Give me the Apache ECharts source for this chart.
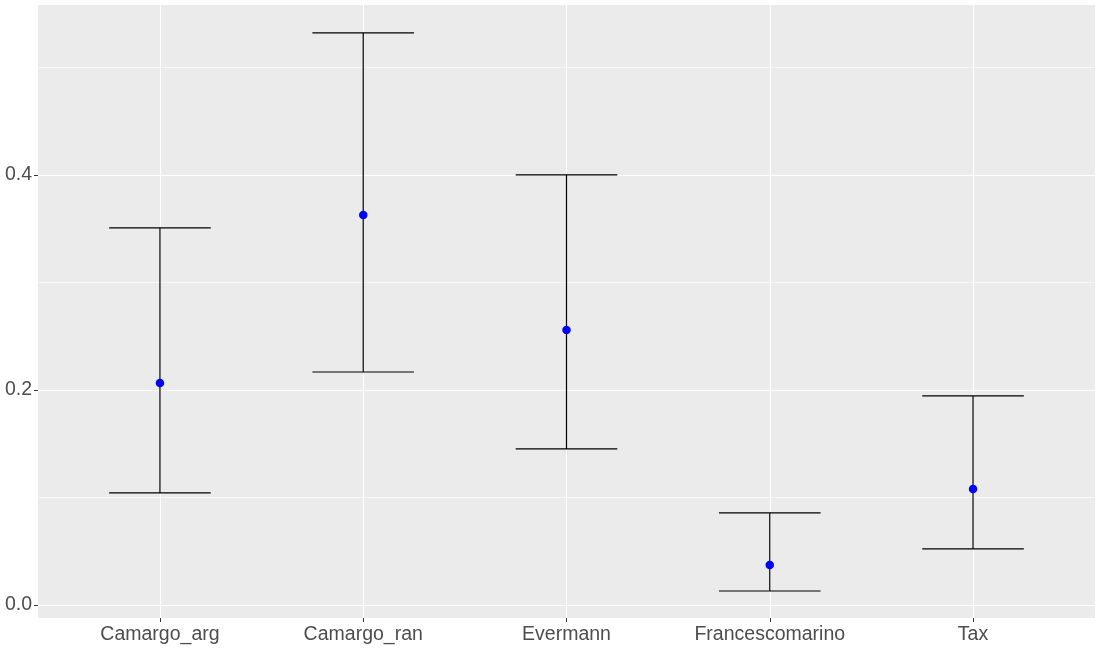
<!DOCTYPE html>
<html>
<head>
<meta charset="utf-8">
<script src="https://cdn.jsdelivr.net/npm/echarts@6/dist/echarts.min.js"></script>
<style>
  html, body { margin: 0; padding: 0; background: #fff; }
  #chart { width: 1100px; height: 650px; }
</style>
</head>
<body>
<div id="chart"></div>
<script>
const categories = ["Camargo_arg", "Camargo_ran", "Evermann", "Francescomarino", "Tax"];
const means = [0.2065, 0.3628, 0.2558, 0.0372, 0.1079];
const lower = [0.1042, 0.2167, 0.1451, 0.0130, 0.0521];
const upper = [0.3507, 0.5320, 0.4000, 0.0856, 0.1944];
const yTicks = [0, 0.2, 0.4];
const yMinor = [0.1, 0.3, 0.5];

const chart = echarts.init(document.getElementById("chart"));
window.addEventListener("resize", () => chart.resize());

const idx = categories.map((c, i) => i);
const textFont = "Liberation Sans, Arial, sans-serif";

chart.setOption({
  animation: false,
  grid: {
    left: 38,
    right: 5,
    top: 5,
    bottom: 32,
    show: true,
    backgroundColor: "#EBEBEB",
    borderWidth: 0,
  },
  xAxis: {
    type: "value",
    min: -0.6,
    max: 4.6,
    axisLine: { show: false, onZero: false },
    axisTick: {
      show: true,
      length: 4,
      customValues: idx,
      lineStyle: { color: "#333333", width: 1 },
    },
    axisLabel: {
      customValues: idx,
      formatter: (v) => categories[Math.round(v)],
      color: "#4D4D4D",
      fontSize: 19.5,
      fontFamily: textFont,
      margin: 7,
    },
    splitLine: { show: true, lineStyle: { color: "#FFFFFF", width: 1.1 } },
  },
  yAxis: [
    {
      type: "value",
      min: -0.0121,
      max: 0.558,
      axisLine: { show: false, onZero: false },
      axisTick: {
        show: true,
        length: 4,
        customValues: yTicks,
        lineStyle: { color: "#333333", width: 1 },
      },
      axisLabel: {
        customValues: yTicks,
        formatter: (v) => v.toFixed(1),
        color: "#4D4D4D",
        fontSize: 19.5,
        fontFamily: textFont,
        margin: 6,
        padding: [4, 0, 0, 0],
      },
      splitLine: { show: true, lineStyle: { color: "#FFFFFF", width: 1.1 } },
    },
    {
      type: "value",
      min: -0.0121,
      max: 0.558,
      position: "left",
      axisLine: { show: false, onZero: false },
      axisTick: { show: false, customValues: yMinor },
      axisLabel: { show: false, customValues: yMinor },
      splitLine: { show: true, lineStyle: { color: "#FFFFFF", width: 0.6 } },
    },
  ],
  series: [
    {
      type: "custom",
      data: idx.map((i) => [i, lower[i], upper[i]]),
      renderItem: (params, api) => {
        const x = api.value(0);
        const lo = api.coord([x, api.value(1)]);
        const hi = api.coord([x, api.value(2)]);
        const half = api.size([0.25, 0])[0];
        const style = { stroke: "#000000", lineWidth: 1.2 };
        return {
          type: "group",
          children: [
            { type: "line", shape: { x1: lo[0], y1: lo[1], x2: hi[0], y2: hi[1] }, style },
            { type: "line", shape: { x1: hi[0] - half, y1: hi[1], x2: hi[0] + half, y2: hi[1] }, style },
            { type: "line", shape: { x1: lo[0] - half, y1: lo[1], x2: lo[0] + half, y2: lo[1] }, style },
          ],
        };
      },
      z: 2,
    },
    {
      type: "scatter",
      data: idx.map((i) => [i, means[i]]),
      symbol: "circle",
      symbolSize: 8.5,
      itemStyle: { color: "#0000FF", opacity: 1 },
      z: 3,
    },
  ],
});
</script>
</body>
</html>
